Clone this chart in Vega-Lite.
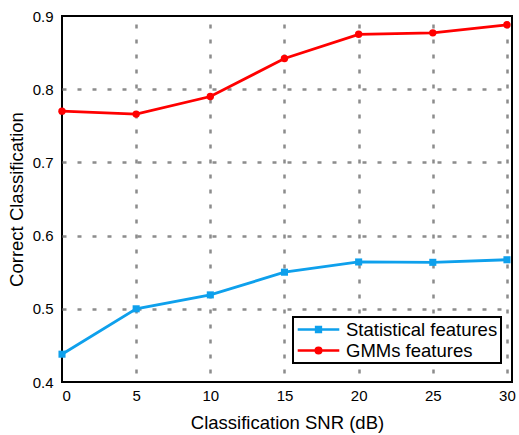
{
  "$schema": "https://vega.github.io/schema/vega-lite/v6.json",
  "width": 450,
  "height": 366,
  "autosize": "none",
  "padding": {"left": 62, "top": 16, "right": 7, "bottom": 53},
  "background": "white",
  "config": {
    "view": {"stroke": "black", "strokeWidth": 2},
    "font": "Liberation Sans"
  },
  "data": {
    "values": [
      {"snr": 0, "acc": 0.438, "series": "Statistical features"},
      {"snr": 5, "acc": 0.500, "series": "Statistical features"},
      {"snr": 10, "acc": 0.519, "series": "Statistical features"},
      {"snr": 15, "acc": 0.550, "series": "Statistical features"},
      {"snr": 20, "acc": 0.564, "series": "Statistical features"},
      {"snr": 25, "acc": 0.5635, "series": "Statistical features"},
      {"snr": 30, "acc": 0.567, "series": "Statistical features"},
      {"snr": 0, "acc": 0.770, "series": "GMMs features"},
      {"snr": 5, "acc": 0.766, "series": "GMMs features"},
      {"snr": 10, "acc": 0.790, "series": "GMMs features"},
      {"snr": 15, "acc": 0.842, "series": "GMMs features"},
      {"snr": 20, "acc": 0.875, "series": "GMMs features"},
      {"snr": 25, "acc": 0.877, "series": "GMMs features"},
      {"snr": 30, "acc": 0.888, "series": "GMMs features"}
    ]
  },
  "encoding": {
    "x": {
      "field": "snr",
      "type": "quantitative",
      "scale": {"domain": [0, 30.34], "nice": false, "zero": false},
      "axis": {
        "values": [0, 5, 10, 15, 20, 25, 30],
        "title": "Classification SNR (dB)",
        "domain": false,
        "ticks": false,
        "grid": true,
        "gridColor": "#8c8c8c",
        "gridWidth": 2.5,
        "gridDash": [4, 11],
        "gridDashOffset": 7,
        "gridOpacity": {"condition": {"test": "datum.value <= 0", "value": 0}, "value": 1},
        "labelFontSize": 15,
        "labelColor": "black",
        "labelPadding": 6,
        "titleFontSize": 18.5,
        "titleFontWeight": "normal",
        "titleColor": "black",
        "titlePadding": 10
      }
    },
    "y": {
      "field": "acc",
      "type": "quantitative",
      "scale": {"domain": [0.4, 0.9], "nice": false, "zero": false},
      "axis": {
        "values": [0.4, 0.5, 0.6, 0.7, 0.8, 0.9],
        "format": ".1f",
        "title": "Correct Classification",
        "domain": false,
        "ticks": false,
        "grid": true,
        "gridColor": "#8c8c8c",
        "gridWidth": 2.5,
        "gridDash": [4, 11],
        "gridOpacity": {"condition": {"test": "datum.value <= 0.4 || datum.value >= 0.9", "value": 0}, "value": 1},
        "labelFontSize": 15,
        "labelColor": "black",
        "labelPadding": 9,
        "titleFontSize": 18.5,
        "titleFontWeight": "normal",
        "titleColor": "black",
        "titlePadding": 6
      }
    },
    "color": {
      "field": "series",
      "type": "nominal",
      "scale": {"domain": ["Statistical features", "GMMs features"], "range": ["#0ea0ec", "#ff0000"]},
      "legend": {
        "title": null,
        "orient": "none",
        "legendX": 231,
        "legendY": 301,
        "strokeColor": "black",
        "fillColor": "white",
        "padding": 3,
        "labelFontSize": 18.5,
        "labelColor": "black",
        "labelFont": "Liberation Sans",
        "symbolSize": 256,
        "symbolOffset": 13,
        "labelOffset": 18,
        "rowPadding": 2,
        "symbolStrokeWidth": 2.5,
        "encode": {
          "legend": {"update": {"strokeWidth": {"value": 2}}},
          "symbols": {
            "update": {
              "shape": {"signal": "datum.value === 'GMMs features' ? 'M-2.6,0H2.6M-0.35,0A0.35,0.35 0 1,0 0.35,0A0.35,0.35 0 1,0 -0.35,0Z' : 'M-2.6,0H2.6M-0.3,-0.3H0.3V0.3H-0.3Z'"},
              "fill": {"signal": "datum.value === 'GMMs features' ? '#ff0000' : '#0ea0ec'"},
              "stroke": {"signal": "datum.value === 'GMMs features' ? '#ff0000' : '#0ea0ec'"},
              "strokeWidth": {"value": 2.5},
              "opacity": {"value": 1},
              "fillOpacity": {"value": 1},
              "strokeOpacity": {"value": 1}
            }
          }
        }
      }
    }
  },
  "layer": [
    {"mark": {"type": "line", "strokeWidth": 2.8}},
    {
      "transform": [{"filter": "datum.series === 'Statistical features'"}],
      "mark": {"type": "point", "filled": true, "opacity": 1, "shape": "square", "size": 50}
    },
    {
      "transform": [{"filter": "datum.series === 'GMMs features'"}],
      "mark": {"type": "point", "filled": true, "opacity": 1, "shape": "circle", "size": 55}
    }
  ]
}
